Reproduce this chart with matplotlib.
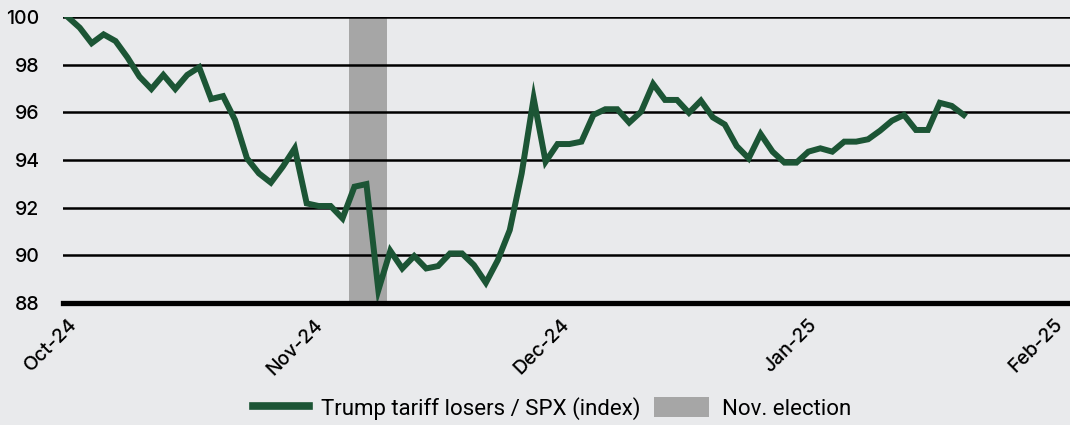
import matplotlib
matplotlib.use("Agg")
import matplotlib.pyplot as plt
from matplotlib.patches import Patch
from matplotlib.lines import Line2D

# trading-day series, 1 Oct 2024 .. 21 Jan 2025
losers_spx = [
    100.0, 99.55, 98.9, 99.27, 98.99, 98.3, 97.5, 96.98, 97.57, 96.98,
    97.57, 97.89, 96.56, 96.68, 95.68, 94.07, 93.44, 93.05, 93.72, 94.49,
    92.18, 92.07, 92.07, 91.55, 92.88, 92.99, 88.54, 90.19, 89.45, 89.97,
    89.45, 89.55, 90.08, 90.08, 89.59, 88.85, 89.8, 91.06, 93.44, 96.59,
    93.93, 94.67, 94.67, 94.77, 95.89, 96.13, 96.13, 95.57, 96.03, 97.19,
    96.52, 96.52, 95.98, 96.49, 95.79, 95.49, 94.58, 94.07, 95.09, 94.35,
    93.89, 93.89, 94.35, 94.49, 94.35, 94.77, 94.77, 94.87, 95.23, 95.65,
    95.89, 95.26, 95.26, 96.4, 96.27, 95.89,
]
month_labels = ["Oct-24", "Nov-24", "Dec-24", "Jan-25", "Feb-25"]
month_pos = [0, 20.6, 41.2, 61.9, 82.5]
election_span = (23.55, 26.75)
y_ticks = [88, 90, 92, 94, 96, 98, 100]

bg = "#E9EAEC"
green = "#1C5535"
grey = "#A6A6A6"

fig = plt.figure(figsize=(10.7, 4.25), dpi=100, facecolor=bg)
ax = fig.add_axes([63 / 1070, 1 - 303 / 425, 1 - 63 / 1070, (303 - 17) / 425])
ax.set_facecolor(bg)

ax.axvspan(*election_span, color=grey, zorder=1, lw=0)
for y in y_ticks[1:]:
    ax.axhline(y, color="black", lw=1.8, zorder=2)
ax.plot(range(len(losers_spx)), losers_spx, color=green, lw=4.3,
        solid_joinstyle="miter", zorder=3)

ax.set_ylim(88, 100)
ax.set_xlim(-0.4, 83.9)
for s in ["top", "right", "left"]:
    ax.spines[s].set_visible(False)
ax.spines["bottom"].set_linewidth(3.8)
ax.spines["bottom"].set_color("black")
ax.spines["bottom"].set_zorder(4)

ax.set_yticks(y_ticks)
ax.set_yticklabels([str(v) for v in y_ticks], fontsize=14, family="Inter",
                   fontweight="medium")
ax.tick_params(axis="y", length=0, pad=17)

ax.set_xticks(month_pos)
ax.set_xticklabels(month_labels, fontsize=14, family="Inter",
                   fontweight="medium", rotation=45, ha="right",
                   rotation_mode="anchor")
ax.tick_params(axis="x", length=0, pad=9)

handles = [
    Line2D([], [], color=green, lw=5.5),
    Patch(facecolor=grey, edgecolor="none"),
]
fig.legend(handles, ["Trump tariff losers / SPX (index)", "Nov. election"],
           loc="lower center", bbox_to_anchor=(0.516, -0.035), ncol=2,
           frameon=False, prop={"family": "Roboto", "size": 16},
           handlelength=2.5, handleheight=1.0, handletextpad=0.55,
           columnspacing=0.6)

fig.savefig("out.png", dpi=100, facecolor=bg)
